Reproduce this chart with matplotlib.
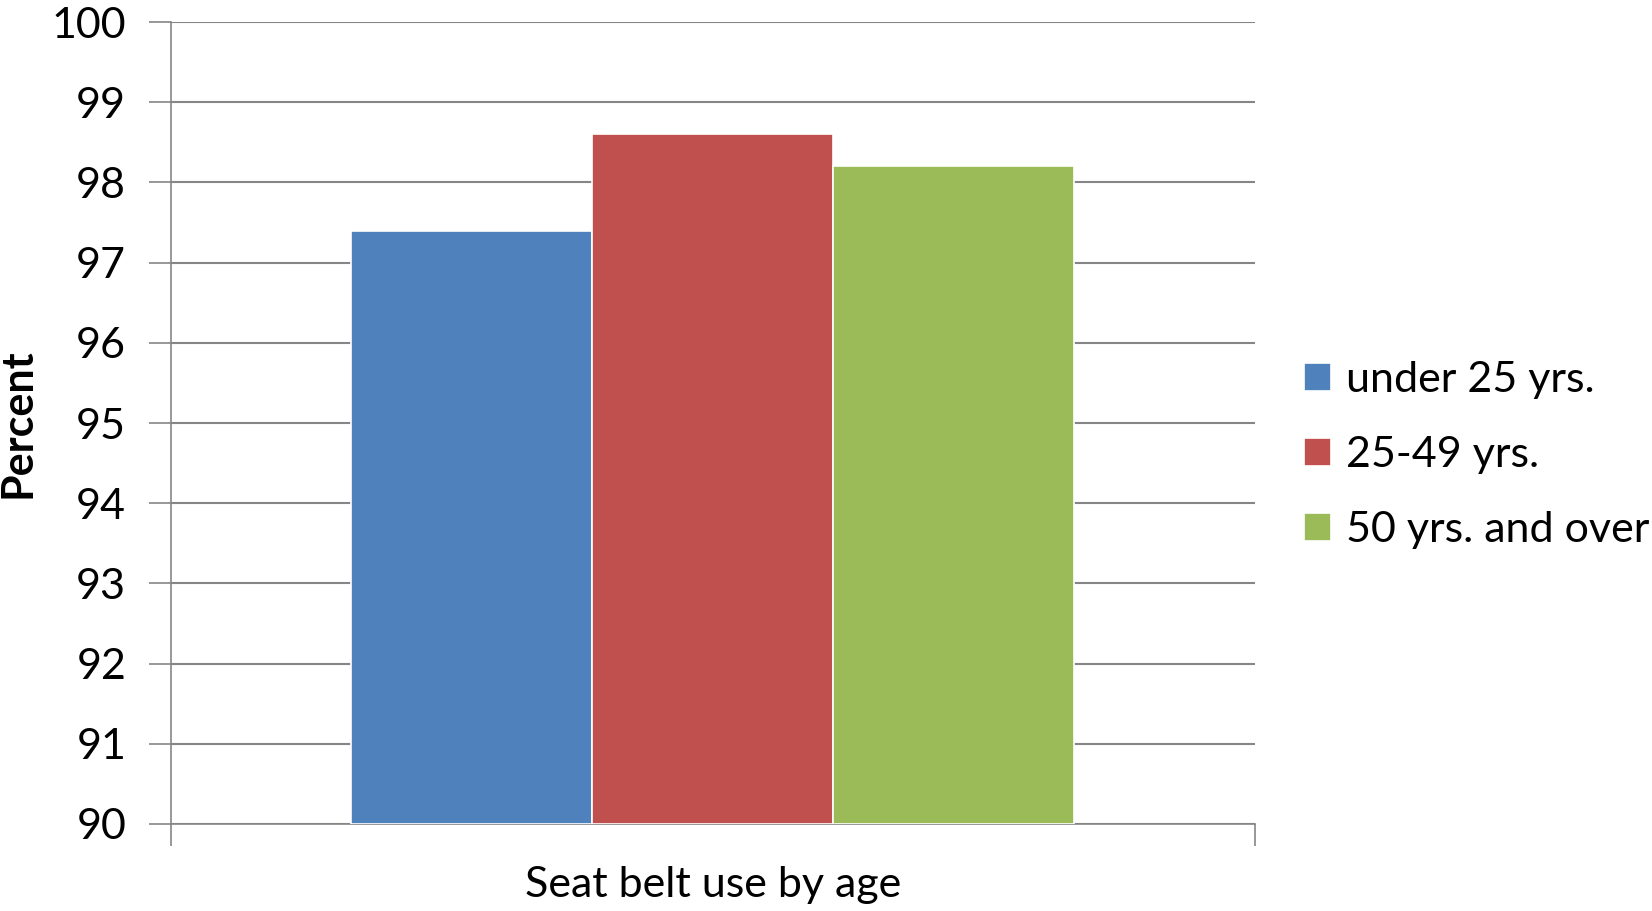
import matplotlib.pyplot as plt

groups = ['under 25 yrs.', '25-49 yrs.', '50 yrs. and over']
values = [97.4, 98.6, 98.2]
colors = ['#4f81bd', '#c0504d', '#9bbb59']
yticks = [90, 91, 92, 93, 94, 95, 96, 97, 98, 99, 100]

plt.rcParams['font.family'] = ['Lato', 'DejaVu Sans']

fig = plt.figure(figsize=(16.52, 9.11), dpi=100)
ax = fig.add_axes([0.1033, 0.0955, 0.6564, 0.8803])

w = 2 / 3 / len(values)
for i, (g, v, c) in enumerate(zip(groups, values, colors)):
	x = (i - 1) * w
	ax.bar(x, v - 90, bottom=90, width=w, color=c, edgecolor='white', linewidth=1.2, label=g, zorder=3)

ax.set_xlim(-0.5, 0.5)
ax.set_ylim(90, 100)
ax.set_yticks(yticks)
ax.set_yticklabels([str(t) for t in yticks], fontsize=31)
ax.set_xticks([-0.5, 0.5])
ax.set_xticklabels(['', ''])
ax.tick_params(axis='y', length=16, width=1.2, color='#868686', pad=16)
ax.tick_params(axis='x', length=16, width=1.2, color='#868686')
ax.grid(axis='y', color='#868686', linewidth=1.5, zorder=0)

for s in ['top', 'right']:
	ax.spines[s].set_visible(False)
for s in ['left', 'bottom']:
	ax.spines[s].set_color('#868686')
	ax.spines[s].set_linewidth(1.2)

ax.set_ylabel('Percent', fontsize=31, fontweight='bold')
ax.yaxis.label.set_va('center')
ax.yaxis.set_label_coords(-0.141, 0.5)
ax.set_xlabel('Seat belt use by age', fontsize=31)
ax.xaxis.label.set_va('center')
ax.xaxis.set_label_coords(0.5, -0.076)

ax.legend(loc='center left', bbox_to_anchor=(1304 / 1652, 456 / 911), bbox_transform=fig.transFigure,
	frameon=False, fontsize=31, handlelength=0.62, handleheight=0.62, handletextpad=0.35,
	labelspacing=0.86, borderaxespad=0, borderpad=0)

fig.savefig('out.png', dpi=100)
